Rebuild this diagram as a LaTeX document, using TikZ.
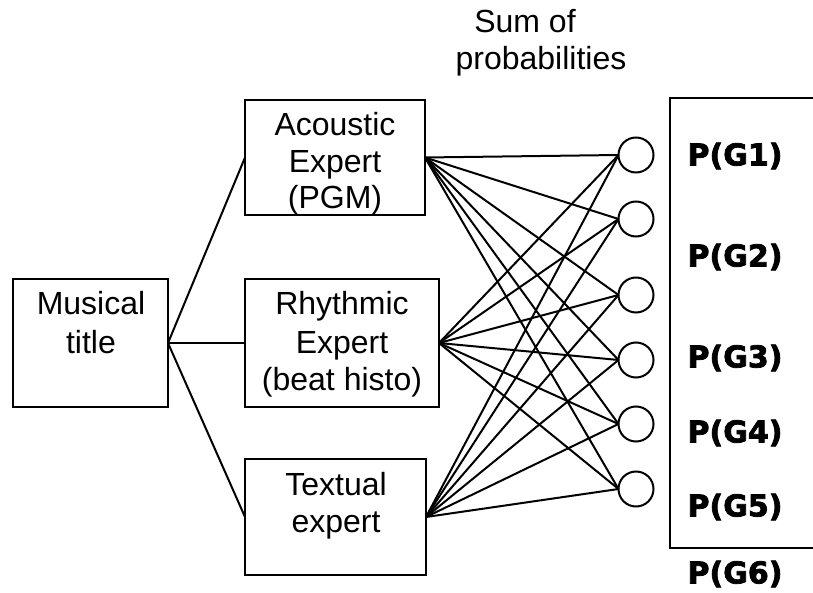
\documentclass[tikz,border=0pt]{standalone}
\usepackage{fontspec}
\setmainfont{Liberation Sans}
\newfontfamily\pgfont[BoldFeatures={FakeBold=2.5}]{DejaVu Sans}
\begin{document}
\begin{tikzpicture}[x=1pt,y=-1pt,
  line width=2pt,
  box/.style={draw, rectangle, inner sep=0pt, outer sep=0pt},
  txt/.style={anchor=base, inner sep=0pt, font=\fontsize{32}{37}\selectfont},
  sumnode/.style={draw, circle, minimum size=35pt, inner sep=0pt, outer sep=0pt},
  plabel/.style={anchor=center, inner sep=0pt, font=\pgfont\bfseries\fontsize{30}{36}\selectfont},
  link/.style={line width=2pt}]
\useasboundingbox (0,0) rectangle (813,593);

% boxes
\node[box, minimum width=155pt, minimum height=128pt] (mt) at (90.5,343) {};
\node[box, minimum width=180pt, minimum height=115pt] (ac) at (335,157.5) {};
\node[box, minimum width=194pt, minimum height=128pt] (rh) at (342,343) {};
\node[box, minimum width=181pt, minimum height=116pt] (tx) at (335.5,517) {};

% box texts
\node[txt] (mt1) at (91,315) {Musical};
\node[txt] (mt2) at (91,353) {title};
\node[txt] (ac1) at (335,136) {Acoustic};
\node[txt] (ac2) at (335,173) {Expert};
\node[txt] (ac3) at (335,209) {(PGM)};
\node[txt] (rh1) at (342,315) {Rhythmic};
\node[txt] (rh2) at (342,353) {Expert};
\node[txt] (rh3) at (342,390) {(beat histo)};
\node[txt] (tx1) at (336,495) {Textual};
\node[txt] (tx2) at (336,532) {expert};

% title
\node[txt] (sum1) at (525,33) {Sum of};
\node[txt] (sum2) at (541,70) {probabilities};

% sum circles
\node[sumnode] (c1) at (636,155) {};
\node[sumnode] (c2) at (636,219) {};
\node[sumnode] (c3) at (636,295) {};
\node[sumnode] (c4) at (636,360) {};
\node[sumnode] (c5) at (636,424) {};
\node[sumnode] (c6) at (636,489) {};

% output bracket
\draw (813,98) -- (670,98) -- (670,548) -- (813,548);

% probability labels
\node[plabel] (p1) at (735,156) {P(G1)};
\node[plabel] (p2) at (735,257) {P(G2)};
\node[plabel] (p3) at (735,358) {P(G3)};
\node[plabel] (p4) at (735,433) {P(G4)};
\node[plabel] (p5) at (735,507) {P(G5)};
\node[plabel] (p6) at (735,574) {P(G6)};

% musical title to experts
\draw[link] (mt.east) -- (ac.west);
\draw[link] (mt.east) -- (rh.west);
\draw[link] (mt.east) -- (tx.west);

% experts to sums
\foreach \e in {ac,rh,tx}{
  \foreach \c in {c1,c2,c3,c4,c5,c6}{
    \draw[link] (\e.east) -- (\c.west);
  }
}
\end{tikzpicture}
\end{document}
